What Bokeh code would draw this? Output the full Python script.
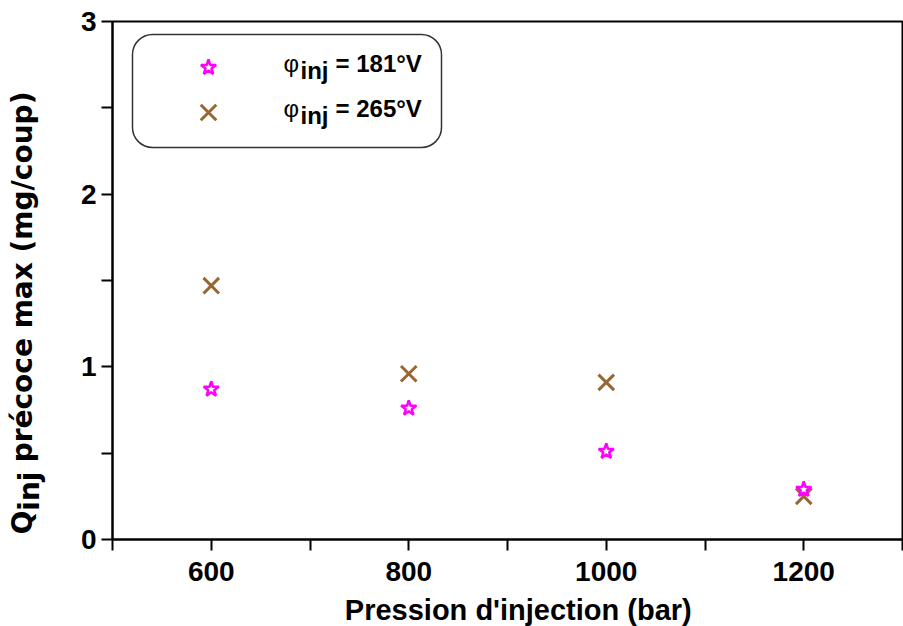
import math
from bokeh.plotting import figure
from bokeh.layouts import row, column
from bokeh.models import FixedTicker, BoxAnnotation, Label, Range1d
from bokeh.embed import file_html
from bokeh.resources import INLINE
from bokeh.core.properties import value

# ---- data ----
pressure = [600, 800, 1000, 1200]
q_181 = [0.87, 0.76, 0.51, 0.29]
q_265 = [1.47, 0.96, 0.91, 0.25]
x_ticks = [600, 800, 1000, 1200]
x_minor = [500, 700, 900, 1100, 1300]
y_ticks = [0, 1, 2, 3]
y_minor = [0.5, 1.5, 2.5]
series_labels = ["= 181°V", "= 265°V"]
x_title = "Pression d'injection (bar)"
y_title_parts = ["Q", "inj", "précoce max (mg/coup)"]

STAR_C = "#FF00FF"
X_C = "#996633"
FONT = "Liberation Sans"
YFONT = "DejaVu Sans"

W, H = 903, 626
TW = 60          # strip carrying the y-axis title
BH = 33          # strip carrying the x-axis title
PH = H - BH      # main plot height


def strip(w, h):
    f = figure(width=w, height=h, x_range=Range1d(0, w), y_range=Range1d(0, h),
               output_backend="svg", toolbar_location=None,
               x_axis_location=None, y_axis_location=None,
               min_border=0, outline_line_color=None)
    f.xgrid.visible = False
    f.ygrid.visible = False
    f.background_fill_color = "white"
    f.border_fill_color = "white"
    return f


# ---- y-axis title strip (pixels, y measured from the bottom) ----
t = strip(TW, H)
fs = 28
q_start = 534        # page y where "Q" begins (bottom end)
b_main = 22          # anchor x of the main text
w_q = 0.85 * fs
w_inj = 1.398 * fs
gap = 0.33 * fs
common = dict(angle=math.pi / 2, text_font=value(YFONT), text_font_style="bold",
              text_font_size=f"{fs}px", text_baseline="alphabetic", text_align="left",
              text_color="black")
t.text(x=[b_main], y=[H - q_start], text=[y_title_parts[0]], **common)
t.text(x=[b_main + 7], y=[H - q_start + w_q], text=[y_title_parts[1]], **common)
t.text(x=[b_main], y=[H - q_start + w_q + w_inj + gap], text=[y_title_parts[2]], **common)

# ---- x-axis title strip ----
b = strip(W - TW, BH)
b.text(x=[493 - TW], y=[17], text=[x_title],
       text_font=value(FONT), text_font_style="bold", text_font_size="29px",
       text_baseline="alphabetic", text_align="center", text_color="black")

# ---- main plot ----
X0, X1, Y0, Y1 = 500, 1300, 0, 3
p = figure(width=W - TW, height=PH, x_range=Range1d(X0, X1), y_range=Range1d(Y0, Y1),
           output_backend="svg", toolbar_location=None,
           min_border_left=112 - TW, min_border_right=1, min_border_top=21,
           min_border_bottom=PH - 539)
p.xgrid.visible = False
p.ygrid.visible = False
p.outline_line_color = "black"
p.outline_line_width = 2
p.background_fill_color = "white"
p.border_fill_color = "white"

# frame in page pixels: left 112, right 902, top 21, bottom 539
FL, FR, FT, FB = 112, 902, 21, 539
def dx(px):
    return X0 + (px - FL) * (X1 - X0) / (FR - FL)
def dy(py):
    return Y0 + (FB - py) * (Y1 - Y0) / (FB - FT)

for ax, tk, mn in ((p.xaxis, x_ticks, x_minor), (p.yaxis, y_ticks, y_minor)):
    ax.ticker = FixedTicker(ticks=tk, minor_ticks=mn)
    ax.axis_line_width = 2
    ax.major_tick_line_width = 2
    ax.minor_tick_line_width = 2
    ax.major_tick_in = 0
    ax.major_tick_out = 11
    ax.minor_tick_in = 0
    ax.minor_tick_out = 11
    ax.major_label_text_font = FONT
    ax.major_label_text_font_style = "bold"
    ax.major_label_text_font_size = "28px"
    ax.major_label_text_color = "black"

p.xaxis.major_label_standoff = 11
p.yaxis.major_label_standoff = 5

# legend box (drawn under the glyphs)
p.add_layout(BoxAnnotation(left=dx(132), right=dx(441), top=dy(34), bottom=dy(147),
                           fill_color="white", fill_alpha=1, line_color="#333333", line_alpha=1,
                           line_width=1.5, border_radius=20, level="underlay"))

# data
p.scatter(pressure, q_265, marker="x", size=22, line_color=X_C, line_width=3)
p.scatter(pressure, q_181, marker="star", size=16, line_color=STAR_C, fill_color="white", line_width=2.5)

# legend entries
LF = 24
leg_rows = [(67, 63, "star", STAR_C, 16, 2.5), (112, 108, "x", X_C, 22, 3)]
for (ym, yb, mk, col, sz, lw), lab in zip(leg_rows, series_labels):
    p.scatter([dx(208)], [dy(ym)], marker=mk, size=sz, line_color=col,
              fill_color="white", line_width=lw)
    p.add_layout(Label(x=dx(283), y=dy(yb), text="φ", text_font=FONT, text_color="black",
                       text_font_size=f"{LF}px", text_baseline="alphabetic"))
    p.add_layout(Label(x=dx(300), y=dy(yb + 7), text="inj", text_font=FONT, text_font_style="bold",
                       text_color="black", text_font_size=f"{LF}px", text_baseline="alphabetic"))
    p.add_layout(Label(x=dx(335), y=dy(yb), text=lab, text_font=FONT, text_font_style="bold",
                       text_color="black", text_font_size=f"{LF}px", text_baseline="alphabetic"))

layout = row(t, column(p, b))
open("out.html", "w").write(file_html(layout, INLINE))
